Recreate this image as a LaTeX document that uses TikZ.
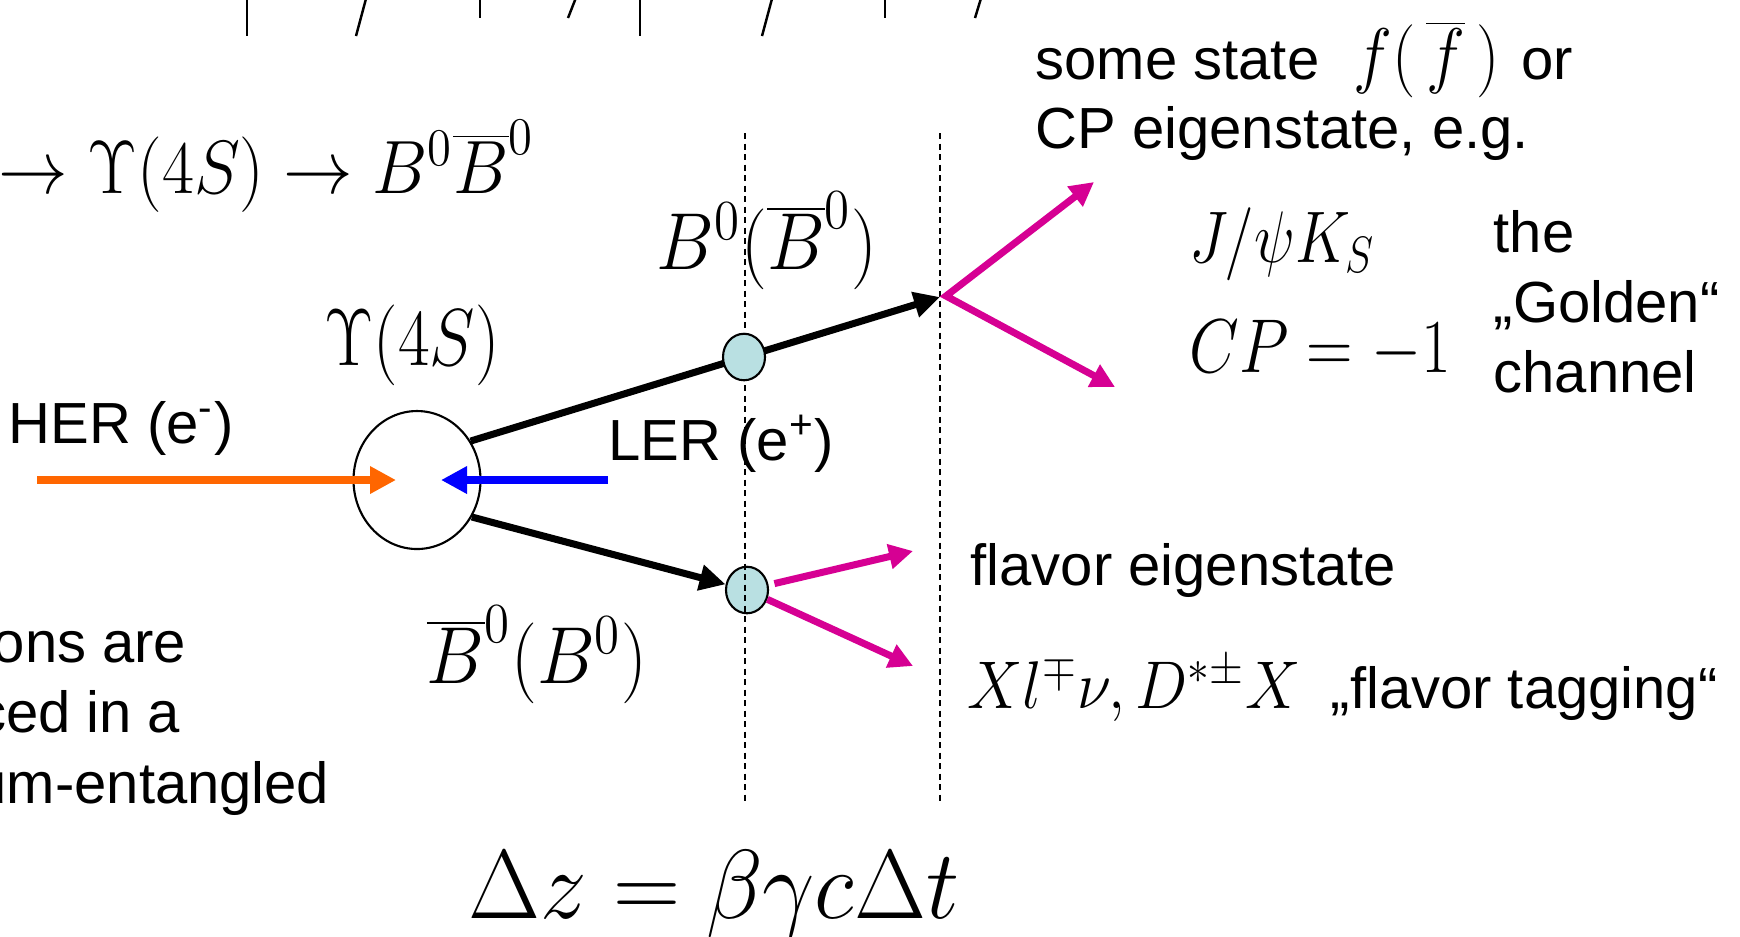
\documentclass[tikz,border=0pt]{standalone}
\usepackage{fix-cm}
\usepackage[no-math]{fontspec}
\newfontfamily\arial{Liberation Sans}
\usetikzlibrary{arrows.meta,shapes.geometric,positioning}

\definecolor{herorange}{RGB}{255,102,0}
\definecolor{lerblue}{RGB}{0,0,255}
\definecolor{decaymag}{RGB}{214,0,147}
\definecolor{mesonfill}{RGB}{185,224,226}

% formula: horizontal squeeze, size in pt, math
\newcommand{\slidemath}[3]{\scalebox{#1}[1]{\fontsize{#2pt}{#2pt}\selectfont$#3$}}

\begin{document}
\begin{tikzpicture}[
            x=0.1mm, y=-0.1mm,
            txt/.style={
                font=\arial\fontsize{16.5pt}{19.9pt}\selectfont,
                inner sep=0pt,
                anchor=base west
            },
            eqn/.style={inner sep=0pt, anchor=base west},
            beam/.style={line width=2.5pt, -{Triangle[length=2.6mm,width=2.6mm]}},
            track/.style={line width=2pt, -{Triangle[length=2.6mm,width=2.5mm]}},
            decay/.style={decaymag, line width=2pt},
            tagtip/.style={-{Triangle[length=2.4mm,width=2.4mm]}},
            vline/.style={line width=0.45pt, dash pattern=on 0.6mm off 0.45mm},
            meson/.style={
                ellipse,
                draw=black,
                line width=0.6pt,
                fill=mesonfill,
                minimum width=4.2mm,
                minimum height=4.65mm,
                inner sep=0pt
            },
            scalemark/.style={line width=0.7pt}
        ]

        \useasboundingbox (0,0) rectangle (1740,936);

        % Marcas arriba
        \foreach \x/\len in {247/36, 480/18, 640/36, 885/18}
            \draw[scalemark] (\x,-5) -- (\x,\len);
        \foreach \x/\dx/\len in {367/-11/36, 577/-9/18, 773/-11/36, 982/-7/18}
            \draw[scalemark] (\x,-5) -- ++(\dx,\len+5);

        \node[eqn] (chain) at (-2,193) {\slidemath{0.92}{21.5}{\to\Upsilon(4S)\to B^0\overline{B}^0}};

        % Upsilon(4S) y haces
        \node[ellipse, draw=black, line width=0.6pt, minimum width=12.7mm,
              minimum height=13.8mm, inner sep=0pt] (ups) at (417,480) {};
        \coordinate (herstart) at (37,480);
        \coordinate (hertip)   at (396,480);
        \coordinate (lerstart) at (608,480);
        \coordinate (lertip)   at (441,480);
        \draw[beam, herorange] (herstart) -- (hertip);
        \draw[beam, lerblue]   (lerstart) -- (lertip);

        % Mesones B
        \node[meson] (b2) at (747,590) {};
        \coordinate (vtx) at (940,297);
        \draw[track] (ups.-34) -- (b2);
        \draw[track] (ups.36) -- (vtx);

        \draw[vline] (745,133) -- (745,801);
        \draw[vline] (940,133) -- (940,801);

        \node[meson] (b1) at (744,357) {};

        % Desintegraciones
        \coordinate (fvtx)  at (946,296);
        \coordinate (cpup)  at (1094,182);
        \coordinate (cpdn)  at (1115,387);
        \coordinate (flup)  at (913,551);
        \coordinate (fldn)  at (913,666);
        \draw[decay, {Triangle[length=2.4mm,width=2.4mm]}-{Triangle[length=2.4mm,width=2.4mm]}]
            (cpup) -- (fvtx) -- (cpdn);
        \draw[decay, tagtip, shorten <=0.6mm] (b2) -- (flup);
        \draw[decay, tagtip] (b2) -- (fldn);

        % Etiquetas
        \node[eqn, anchor=base] (upslabel) at (412,365) {\slidemath{0.85}{23}{\Upsilon(4S)}};
        \node[eqn, anchor=base] (b1label) at (767,269) {\slidemath{0.9}{23}{B^0(\overline{B}^0)}};
        \node[eqn, anchor=base] (b2label) at (537,683) {\slidemath{0.9}{23}{\overline{B}^0(B^0)}};

        \node[txt] (her) at (8,443) {HER (e\textsuperscript{-})};
        \node[txt] (ler) at (608,460) {LER (e\textsuperscript{+})};

        \node[txt, anchor=base east] (ent1) at (187,662) {ons are};
        \node[txt, anchor=base east] (ent2) at (181,732) {ced in a};
        \node[txt, anchor=base east] (ent3) at (330,803) {um-entangled};

        \node[txt] (state) at (1035,79) {some state\hspace{3.4mm}\slidemath{0.9}{20.8}{f(\,\overline{f}\,)}\hspace{2.2mm}or};
        \node[txt] (cpeig) at (1035,148) {CP eigenstate, e.g.};
        \node[eqn] (jpsi)  at (1189,262) {\slidemath{0.83}{20.8}{J/\psi K_S}};
        \node[eqn] (cpval) at (1189,372) {\slidemath{0.845}{21.7}{CP=-1}};
        \node[txt] (gold1) at (1493,252) {the};
        \node[txt] (gold2) at (1493,322) {„Golden“};
        \node[txt] (gold3) at (1493,392) {channel};

        \node[txt] (flav)  at (970,585) {flavor eigenstate};
        \node[eqn] (xlnu)  at (967,708) {\slidemath{0.92}{19.2}{Xl^{\mp}\nu,D^{*\pm}X}};
        \node[txt] (ftag)  at (1330,708) {„flavor tagging“};

        \node[eqn, anchor=base] (dz) at (714,918) {\slidemath{0.95}{27.9}{\Delta z=\beta\gamma c\Delta t}};

        \end{tikzpicture}
\end{document}
